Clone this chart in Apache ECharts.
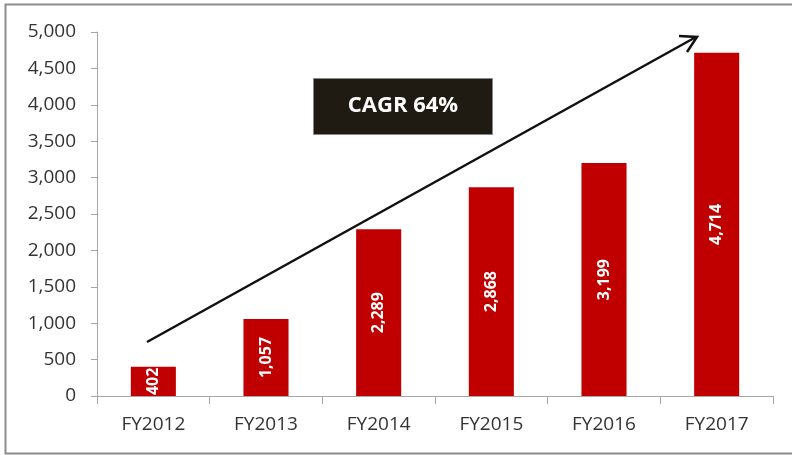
<!DOCTYPE html>
<html>
<head>
<meta charset="utf-8">
<script src="https://cdn.jsdelivr.net/npm/echarts@6/dist/echarts.min.js"></script>
<style>
html,body{margin:0;padding:0;background:#fff;}
#main{width:792px;height:455px;}
</style>
</head>
<body>
<div id="main"></div>
<script>
// 财年收入数据
var years = ['FY2012', 'FY2013', 'FY2014', 'FY2015', 'FY2016', 'FY2017'];
var revenue = [402, 1057, 2289, 2868, 3199, 4714];
var yTicks = [0, 500, 1000, 1500, 2000, 2500, 3000, 3500, 4000, 4500, 5000];
var cagrText = 'CAGR 64%';

var fontFamily = '"Open Sans", "Noto Sans", sans-serif';

function fmt(v) {
    return String(v).replace(/\B(?=(\d{3})+(?!\d))/g, ',');
}

var myChart = echarts.init(document.getElementById('main'));

var option = {
    backgroundColor: '#fff',
    animation: false,
    grid: {
        left: 97,
        right: 19,
        top: 32,
        bottom: 59
    },
    xAxis: {
        type: 'category',
        data: years,
        axisLine: {lineStyle: {color: '#a6a6a6', width: 1}},
        axisTick: {show: true, length: 8, lineStyle: {color: '#a6a6a6'}},
        axisLabel: {color: '#333', fontSize: 19, fontFamily: fontFamily, margin: 19}
    },
    yAxis: {
        type: 'value',
        min: yTicks[0],
        max: yTicks[yTicks.length - 1],
        interval: 500,
        splitLine: {show: false},
        axisLine: {show: true, lineStyle: {color: '#a6a6a6', width: 1}},
        axisTick: {show: true, length: 6, lineStyle: {color: '#a6a6a6'}},
        axisLabel: {
            color: '#333', fontSize: 19, fontFamily: fontFamily, margin: 21,
            formatter: function (v) { return fmt(v); }
        }
    },
    series: [{
        type: 'bar',
        data: revenue,
        barWidth: '40%',
        itemStyle: {color: '#c00000'},
        label: {
            show: true,
            position: 'inside',
            rotate: 90,
            color: '#fff',
            fontWeight: 'bold',
            fontSize: 16,
            fontFamily: fontFamily,
            formatter: function (p) { return fmt(p.value); }
        }
    }],
    graphic: [
        {
            type: 'rect',
            shape: {x: 5.5, y: 4.5, width: 820, height: 449},
            style: {fill: 'none', stroke: '#8c8c8c', lineWidth: 2},
            silent: true
        },
        {
            type: 'line',
            shape: {x1: 147, y1: 342, x2: 696, y2: 37},
            style: {stroke: '#111', lineWidth: 2.5}
        },
        {
            type: 'polyline',
            shape: {points: [[679, 36], [697, 37], [687, 52]]},
            style: {stroke: '#111', lineWidth: 2.5, fill: 'none'}
        },
        {
            type: 'rect',
            shape: {x: 313.5, y: 78.5, width: 179, height: 56},
            style: {fill: '#1f1b12', stroke: '#888', lineWidth: 1}
        },
        {
            type: 'text',
            x: 403,
            y: 106,
            style: {
                text: cagrText,
                fill: '#fff',
                font: 'bold 22px ' + fontFamily,
                textAlign: 'center',
                textVerticalAlign: 'middle'
            }
        }
    ]
};
myChart.setOption(option);
</script>
</body>
</html>
